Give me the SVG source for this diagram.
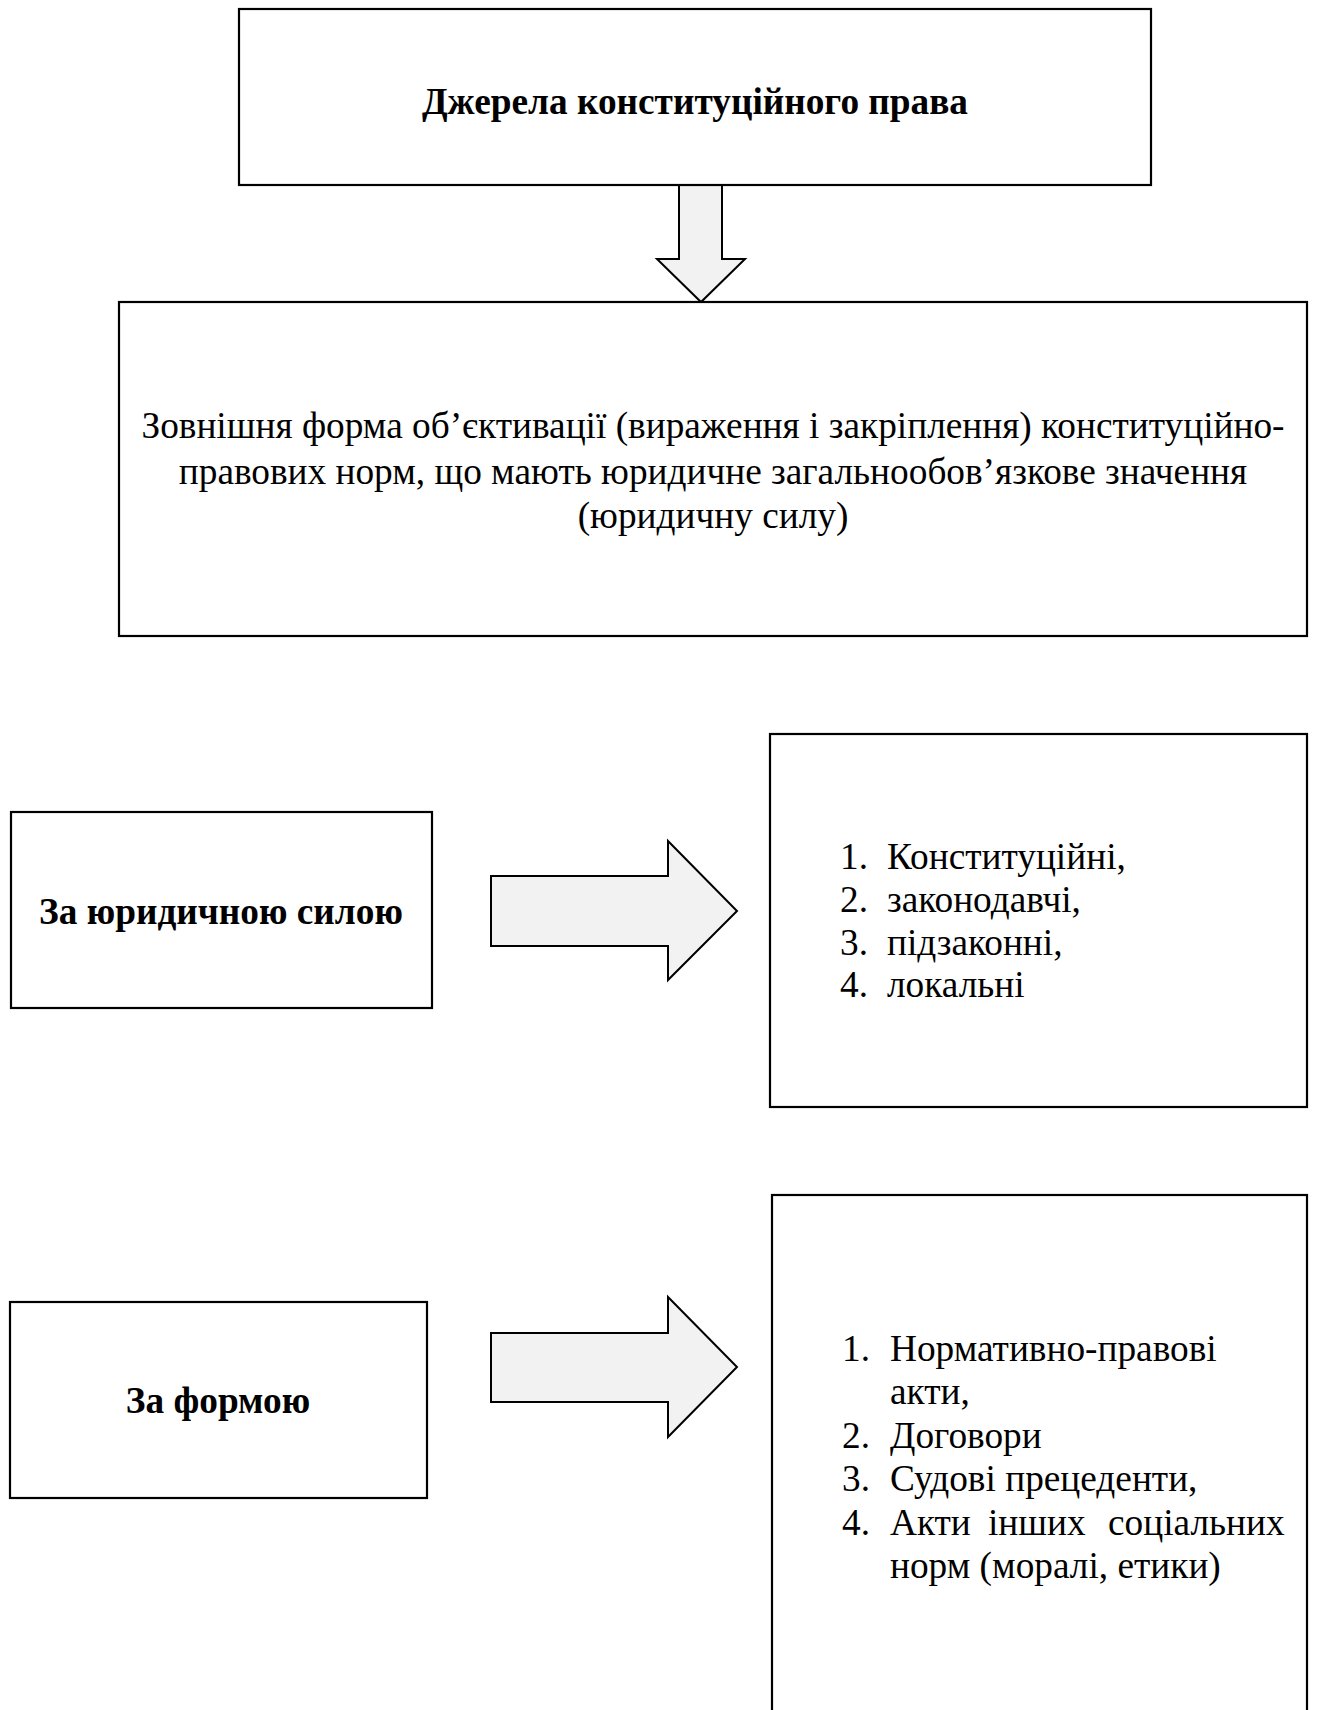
<svg xmlns="http://www.w3.org/2000/svg" width="1317" height="1710" viewBox="0 0 1317 1710">
<style>
.box{fill:#fff;stroke:#000;stroke-width:2.2}
.arr{fill:#f2f2f2;stroke:#000;stroke-width:2}
text{font-family:"Liberation Serif","Times New Roman",serif;fill:#000}
.b{font-weight:bold;font-size:37.3px;text-anchor:middle}
.m{font-size:37.3px;text-anchor:middle}
.l{font-size:37.3px}
</style>
<rect width="1317" height="1710" fill="#fff"/>
<g id="connectors">
<path class="arr" d="M679,185 L722,185 L722,259 L745,259 L701,302 L657,259 L679,259 Z"/>
<path class="arr" d="M491,876 L668,876 L668,841 L737,911 L668,980 L668,946 L491,946 Z"/>
<path class="arr" d="M491,1333 L668,1333 L668,1297 L737,1367 L668,1437 L668,1402 L491,1402 Z"/>
</g>
<g id="title">
<rect class="box" x="239" y="9" width="912" height="176"/>
<text class="b" x="695" y="114">Джерела конституційного права</text>
</g>
<g id="definition">
<rect class="box" x="119" y="302" width="1188" height="334"/>
<text class="m" x="713" y="438">Зовнішня форма об’єктивації (вираження і закріплення) конституційно-</text>
<text class="m" x="713" y="484">правових норм, що мають юридичне загальнообов’язкове значення</text>
<text class="m" x="713" y="528">(юридичну силу)</text>
</g>
<g id="by-force">
<rect class="box" x="11" y="812" width="421" height="196"/>
<text class="b" x="221" y="924">За юридичною силою</text>
</g>
<g id="by-force-list">
<rect class="box" x="770" y="734" width="537" height="373"/>
<text class="l" x="840" y="869">1.<tspan x="887">Конституційні,</tspan></text>
<text class="l" x="840" y="912">2.<tspan x="887">законодавчі,</tspan></text>
<text class="l" x="840" y="955">3.<tspan x="887">підзаконні,</tspan></text>
<text class="l" x="840" y="997">4.<tspan x="887">локальні</tspan></text>
</g>
<g id="by-form">
<rect class="box" x="10" y="1302" width="417" height="196"/>
<text class="b" x="218" y="1413">За формою</text>
</g>
<g id="by-form-list">
<rect class="box" x="772" y="1195" width="535" height="530"/>
<text class="l" x="842" y="1361">1.<tspan x="890">Нормативно-правові</tspan></text>
<text class="l" x="890" y="1404">акти,</text>
<text class="l" x="842" y="1448">2.<tspan x="890">Договори</tspan></text>
<text class="l" x="842" y="1491">3.<tspan x="890">Судові прецеденти,</tspan></text>
<text class="l" x="842" y="1535">4.<tspan x="890">Акти</tspan><tspan x="988">інших</tspan><tspan x="1108">соціальних</tspan></text>
<text class="l" x="890" y="1578">норм (моралі, етики)</text>
</g>
</svg>
